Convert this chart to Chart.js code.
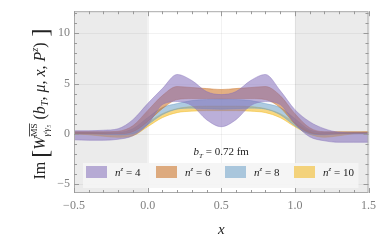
<!DOCTYPE html>
<html>
<head>
<meta charset="utf-8">
<script src="https://cdn.jsdelivr.net/npm/chart.js@4.4.0/dist/chart.umd.min.js"></script>
<style>
  html, body { margin: 0; padding: 0; background: #fff; }
</style>
</head>
<body>
<canvas id="chart" width="382" height="243"></canvas>
<script>
// sample positions in x
const xs = [-0.5, -0.4, -0.3, -0.2, -0.1, 0.0, 0.1, 0.2, 0.3, 0.4, 0.5, 0.6, 0.7, 0.8, 0.9, 1.0, 1.1, 1.2, 1.3, 1.4, 1.5];

// n^z = 4
const nz4Lo = [-0.6, -0.65, -0.65, -0.55, -0.2, 0.9, 2.9, 3.2, 2.8, 1.4, 0.7, 1.4, 2.8, 3.2, 2.9, 1.0, -0.3, -0.7, -0.85, -0.85, -0.85];
const nz4Hi = [0.3, 0.3, 0.35, 0.5, 1.4, 3.0, 4.5, 5.9, 5.3, 4.2, 3.9, 4.2, 5.3, 5.9, 4.3, 2.4, 1.2, 0.5, 0.15, 0.1, 0.1];
// n^z = 6
const nz6Lo = [0.0, 0.0, 0.0, 0.0, 0.2, 1.2, 2.5, 3.4, 3.5, 3.5, 3.5, 3.5, 3.5, 3.4, 2.6, 1.0, 0.1, -0.05, 0.0, 0.05, 0.05];
const nz6Hi = [0.2, 0.2, 0.2, 0.25, 0.8, 2.3, 3.8, 4.7, 4.6, 4.5, 4.4, 4.5, 4.6, 4.7, 3.8, 2.0, 0.6, 0.2, 0.2, 0.2, 0.2];
// n^z = 8
const nz8Lo = [0.0, 0.0, -0.05, -0.1, 0.0, 0.9, 1.9, 2.45, 2.55, 2.5, 2.45, 2.5, 2.55, 2.45, 1.9, 0.8, 0.0, -0.1, 0.0, 0.0, 0.0];
const nz8Hi = [0.15, 0.15, 0.15, 0.15, 0.5, 1.6, 2.6, 3.0, 3.3, 3.4, 3.45, 3.4, 3.3, 3.0, 2.6, 1.5, 0.4, 0.15, 0.15, 0.15, 0.15];
// n^z = 10
const nz10Lo = [0.0, -0.1, -0.25, -0.35, -0.2, 0.7, 1.6, 2.1, 2.25, 2.3, 2.3, 2.3, 2.25, 2.1, 1.6, 0.7, -0.05, -0.35, -0.2, 0.0, 0.05];
const nz10Hi = [0.15, 0.1, 0.0, -0.1, 0.1, 1.1, 2.0, 2.5, 2.7, 2.75, 2.75, 2.75, 2.7, 2.5, 2.0, 1.1, 0.25, -0.1, 0.0, 0.1, 0.15];

const bandNames = ['4', '6', '8', '10'];
const bandColors = ['132,110,185', '203,110,30', '107,160,200', '242,183,23'];
const bands = [[nz4Lo, nz4Hi], [nz6Lo, nz6Hi], [nz8Lo, nz8Hi], [nz10Lo, nz10Hi]];

const xTicks = [-0.5, 0.0, 0.5, 1.0, 1.5];
const yTicks = [-5, 0, 5, 10];
const bTLabel = ' = 0.72 fm';

const serif = '"Liberation Serif", "DejaVu Serif", serif';

function pts(ys) {
    return xs.map((x, i) => ({ x: x, y: ys[i] }));
}

const datasets = [];
bands.forEach((b, i) => {
    const c = bandColors[i];
    datasets.push({
        data: pts(b[0]), fill: false,
        borderColor: `rgba(${c},0.55)`, borderWidth: 0.8,
        pointRadius: 0, cubicInterpolationMode: 'monotone'
    });
    datasets.push({
        data: pts(b[1]), fill: '-1',
        backgroundColor: `rgba(${c},0.55)`,
        borderColor: `rgba(${c},0.55)`, borderWidth: 0.8,
        pointRadius: 0, cubicInterpolationMode: 'monotone'
    });
});

function fmtNum(v, digits) {
    const s = Math.abs(v).toFixed(digits);
    return v < 0 ? '\u2212' + s : s;
}

// draw a run of text pieces; returns total width
function runs(ctx, parts, x, y, measureOnly) {
    let cx = x;
    parts.forEach(p => {
        if (p.sup !== undefined || p.sub !== undefined) {
            let w = 0;
            if (p.sup) {
                ctx.font = p.supFont;
                const ws = ctx.measureText(p.sup).width;
                if (!measureOnly) {
                    ctx.fillText(p.sup, cx, y + p.supDy);
                    if (p.bar) {
                        ctx.fillRect(cx, y + p.supDy - p.bar, ws, 0.8);
                    }
                }
                w = Math.max(w, ws);
            }
            if (p.sub) {
                ctx.font = p.subFont;
                const wb = ctx.measureText(p.sub).width;
                if (!measureOnly) ctx.fillText(p.sub, cx, y + p.subDy);
                w = Math.max(w, wb);
            }
            cx += w;
        } else {
            ctx.font = p.f;
            if (!measureOnly) ctx.fillText(p.t, cx, y + (p.dy || 0));
            cx += ctx.measureText(p.t).width;
        }
    });
    return cx - x;
}

function drawCentered(ctx, parts, cx, y) {
    const w = runs(ctx, parts, 0, 0, true);
    runs(ctx, parts, cx - w / 2, y, false);
}

const decor = {
    id: 'decor',
    beforeDatasetsDraw(chart) {
        const ctx = chart.ctx, a = chart.chartArea;
        const xs_ = chart.scales.x, ys_ = chart.scales.y;
        const x0 = xs_.getPixelForValue(0), x1 = xs_.getPixelForValue(1);
        ctx.save();
        ctx.fillStyle = '#ebebeb';
        ctx.fillRect(a.left, a.top, x0 - a.left, a.bottom - a.top);
        ctx.fillRect(x1, a.top, a.right - x1, a.bottom - a.top);
        ctx.strokeStyle = 'rgba(0,0,0,0.05)';
        ctx.lineWidth = 1;
        yTicks.forEach(v => {
            const y = Math.round(ys_.getPixelForValue(v)) + 0.5;
            ctx.beginPath(); ctx.moveTo(a.left, y); ctx.lineTo(a.right, y); ctx.stroke();
        });
        xTicks.forEach(v => {
            const x = Math.round(xs_.getPixelForValue(v)) + 0.5;
            ctx.beginPath(); ctx.moveTo(x, a.top); ctx.lineTo(x, a.bottom); ctx.stroke();
        });
        ctx.restore();
    },
    afterDatasetsDraw(chart) {
        const ctx = chart.ctx, a = chart.chartArea;
        const sx = chart.scales.x, sy = chart.scales.y;
        ctx.save();
        // frame
        ctx.strokeStyle = '#aaaaaa';
        ctx.lineWidth = 1;
        ctx.strokeRect(a.left + 0.5, a.top + 0.5, a.right - a.left - 1, a.bottom - a.top - 1);
        // frame ticks
        ctx.strokeStyle = '#999999';
        for (let i = -5; i <= 15; i++) {
            const v = i / 10;
            const x = Math.round(sx.getPixelForValue(v)) + 0.5;
            const len = i % 5 === 0 ? 5 : 3;
            ctx.beginPath();
            ctx.moveTo(x, a.bottom); ctx.lineTo(x, a.bottom - len);
            ctx.moveTo(x, a.top); ctx.lineTo(x, a.top + len);
            ctx.stroke();
        }
        for (let v = -5; v <= 12; v++) {
            const y = Math.round(sy.getPixelForValue(v)) + 0.5;
            const len = v % 5 === 0 ? 5 : 3;
            ctx.beginPath();
            ctx.moveTo(a.left, y); ctx.lineTo(a.left + len, y);
            ctx.moveTo(a.right, y); ctx.lineTo(a.right - len, y);
            ctx.stroke();
        }

        ctx.fillStyle = '#222';
        ctx.textBaseline = 'alphabetic';
        ctx.textAlign = 'left';

        // b_T annotation
        drawCentered(ctx, [
            { t: 'b', f: `italic 11px ${serif}` },
            { sub: 'T', subFont: `italic 7px ${serif}`, subDy: 3 },
            { t: bTLabel, f: `11px ${serif}` }
        ], sx.getPixelForValue(0.5), 155);

        // legend box
        const lx = a.left + 9, lw = a.right - 10 - lx, lh = 25, ly = a.bottom - 5 - lh;
        ctx.fillStyle = 'rgba(244,244,244,0.92)';
        ctx.fillRect(lx, ly, lw, lh);
        const itemX = [86, 156, 225, 294];
        bandNames.forEach((n, i) => {
            const ix = lx + (itemX[i] - 83);
            ctx.fillStyle = `rgba(${bandColors[i]},0.55)`;
            ctx.fillRect(ix, ly + 3, 21, 12);
            ctx.fillStyle = '#222';
            runs(ctx, [
                { t: 'n', f: `italic 11px ${serif}` },
                { sup: 'z', supFont: `italic 7px ${serif}`, supDy: -5 },
                { t: ' = ' + n, f: `11px ${serif}` }
            ], ix + 29, ly + 13, false);
        });

        // x-axis title
        ctx.fillStyle = '#222';
        drawCentered(ctx, [{ t: 'x', f: `italic 15px ${serif}` }], sx.getPixelForValue(0.5), 234);

        // y-axis title
        ctx.translate(45, 104);
        ctx.rotate(-Math.PI / 2);
        const S = 16;
        drawCentered(ctx, [
            { t: 'Im ', f: `${S}px ${serif}` },
            { t: '[', f: `${S + 8}px ${serif}`, dy: 3 },
            { t: 'W', f: `italic ${S}px ${serif}` },
            { sup: 'MS', supFont: `9px ${serif}`, supDy: -8, bar: 8,
              sub: '\u03b3\u1d57\u03b3\u2085', subFont: `italic 9px ${serif}`, subDy: 4 },
            { t: ' (', f: `${S}px ${serif}` },
            { t: 'b', f: `italic ${S}px ${serif}` },
            { sub: 'T', subFont: `italic 10px ${serif}`, subDy: 3 },
            { t: ', ', f: `${S}px ${serif}` },
            { t: '\u03bc', f: `italic ${S}px ${serif}` },
            { t: ', ', f: `${S}px ${serif}` },
            { t: 'x', f: `italic ${S}px ${serif}` },
            { t: ', ', f: `${S}px ${serif}` },
            { t: 'P', f: `italic ${S}px ${serif}` },
            { sup: 'z', supFont: `italic 10px ${serif}`, supDy: -7 },
            { t: ')', f: `${S}px ${serif}` },
            { t: ' ]', f: `${S + 8}px ${serif}`, dy: 3 }
        ], 0, 0);
        ctx.restore();
    }
};

new Chart(document.getElementById('chart').getContext('2d'), {
    type: 'line',
    data: { datasets: datasets },
    options: {
        responsive: false,
        devicePixelRatio: 1,
        animation: false,
        layout: { padding: { top: 10, right: 11, left: 0, bottom: 0 } },
        plugins: {
            legend: { display: false },
            tooltip: { enabled: false },
            filler: { propagate: false }
        },
        scales: {
            x: {
                type: 'linear', min: -0.5, max: 1.5,
                afterBuildTicks: s => { s.ticks = xTicks.map(v => ({ value: v })); },
                afterFit: s => { s.height = 50; },
                grid: { display: false, drawTicks: false },
                border: { display: false },
                ticks: {
                    padding: 6, color: '#808080',
                    font: { family: serif, size: 12 },
                    callback: v => fmtNum(v, 1),
                    maxRotation: 0
                }
            },
            y: {
                min: -5.9, max: 12.2,
                afterBuildTicks: s => { s.ticks = yTicks.map(v => ({ value: v })); },
                afterFit: s => { s.width = 74; },
                grid: { display: false, drawTicks: false },
                border: { display: false },
                ticks: {
                    padding: 4, color: '#808080',
                    font: { family: serif, size: 12 },
                    callback: v => fmtNum(v, 0)
                }
            }
        }
    },
    plugins: [decor]
});
</script>
</body>
</html>
